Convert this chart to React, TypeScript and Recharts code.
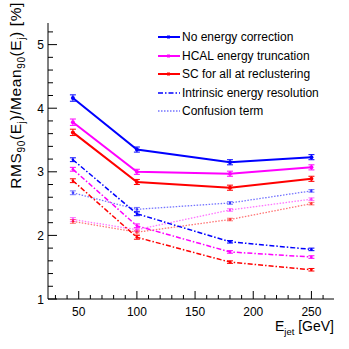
import React from 'react';
import { LineChart, Line, XAxis, YAxis, ErrorBar } from 'recharts';

// ---- data ----
const energies = [45, 100, 180, 250];
const noCorrection = [4.16, 3.35, 3.15, 3.23];
const noCorrectionErr = [0.05, 0.04, 0.04, 0.04];
const hcalTruncation = [3.78, 3.0, 2.97, 3.07];
const hcalTruncationErr = [0.05, 0.04, 0.04, 0.04];
const scRecluster = [3.62, 2.84, 2.75, 2.89];
const scReclusterErr = [0.05, 0.04, 0.04, 0.04];
const intrinsicNoCorr = [3.19, 2.34, 1.9, 1.78];
const intrinsicHcal = [3.04, 2.15, 1.74, 1.66];
const intrinsicSc = [2.86, 1.97, 1.58, 1.46];
const confusionNoCorr = [2.67, 2.41, 2.51, 2.7];
const confusionHcal = [2.25, 2.09, 2.4, 2.57];
const confusionSc = [2.22, 2.05, 2.25, 2.5];
const smallErr = [0.03, 0.03, 0.02, 0.02];

const xTicks = [30, 40, 50, 60, 70, 80, 90, 100, 110, 120, 130, 140, 150, 160, 170, 180, 190, 200, 210, 220, 230, 240, 250, 260];
const yTicks = [1, 1.2, 1.4, 1.6, 1.8, 2, 2.2, 2.4, 2.6, 2.8, 3, 3.2, 3.4, 3.6, 3.8, 4, 4.2, 4.4, 4.6, 4.8, 5, 5.2];
const legendNames = [
  'No energy correction',
  'HCAL energy truncation',
  'SC for all at reclustering',
  'Intrinsic energy resolution',
  'Confusion term',
];

const BLUE = '#0000ff';
const MAGENTA = '#ff00ff';
const RED = '#ff0000';
const FONT = '"Liberation Sans", Arial, Helvetica, sans-serif';

type Series = {
  key: string;
  values: number[];
  errors: number[];
  color: string;
  dash?: string;
  width: number;
  opacity: number;
};

const series: Series[] = [
  { key: 'confNo', values: confusionNoCorr, errors: smallErr, color: BLUE, dash: '1.5 1.5', width: 1.3, opacity: 0.55 },
  { key: 'confHcal', values: confusionHcal, errors: smallErr, color: MAGENTA, dash: '1.5 1.5', width: 1.3, opacity: 0.55 },
  { key: 'confSc', values: confusionSc, errors: smallErr, color: RED, dash: '1.5 1.5', width: 1.3, opacity: 0.55 },
  { key: 'intNo', values: intrinsicNoCorr, errors: smallErr, color: BLUE, dash: '5 2 1.5 2', width: 1.5, opacity: 1 },
  { key: 'intHcal', values: intrinsicHcal, errors: smallErr, color: MAGENTA, dash: '5 2 1.5 2', width: 1.5, opacity: 1 },
  { key: 'intSc', values: intrinsicSc, errors: smallErr, color: RED, dash: '5 2 1.5 2', width: 1.5, opacity: 1 },
  { key: 'noCorr', values: noCorrection, errors: noCorrectionErr, color: BLUE, width: 2, opacity: 1 },
  { key: 'hcal', values: hcalTruncation, errors: hcalTruncationErr, color: MAGENTA, width: 2, opacity: 1 },
  { key: 'sc', values: scRecluster, errors: scReclusterErr, color: RED, width: 2, opacity: 1 },
];

const data = energies.map((e, i) => {
  const row: Record<string, number> = { E: e };
  series.forEach((s) => {
    row[s.key] = s.values[i];
    row[s.key + 'Err'] = s.errors[i];
  });
  return row;
});

const isMajorX = (v: number) => v % 50 === 0;
const isMajorY = (v: number) => Math.abs(v - Math.round(v)) < 1e-6;

const BottomTick = (props: any) => {
  const { x, y, payload } = props;
  const v = payload.value;
  const major = isMajorX(v);
  return (
    <g>
      <line x1={x} x2={x} y1={y} y2={y - (major ? 8 : 4)} stroke="#000" strokeWidth={1} />
      {major && (
        <text x={x} y={y + 17} textAnchor="middle" fontSize={12} fontFamily={FONT} fill="#000">
          {v}
        </text>
      )}
    </g>
  );
};

const TopTick = (props: any) => {
  const { x, y, payload } = props;
  const major = isMajorX(payload.value);
  return <line x1={x} x2={x} y1={y} y2={y + (major ? 8 : 4)} stroke="#000" strokeWidth={1} />;
};

const LeftTick = (props: any) => {
  const { x, y, payload } = props;
  const v = payload.value;
  const major = isMajorY(v);
  return (
    <g>
      <line x1={x} x2={x + (major ? 9 : 5)} y1={y} y2={y} stroke="#000" strokeWidth={1} />
      {major && (
        <text x={x - 4} y={y + 4.5} textAnchor="end" fontSize={12} fontFamily={FONT} fill="#000">
          {Math.round(v)}
        </text>
      )}
    </g>
  );
};

const RightTick = (props: any) => {
  const { x, y, payload } = props;
  const major = isMajorY(payload.value);
  return <line x1={x} x2={x - (major ? 9 : 5)} y1={y} y2={y} stroke="#000" strokeWidth={1} />;
};

const XTitle = (props: any) => {
  const vb = props.viewBox || { x: 48, y: 299, width: 286, height: 50 };
  return (
    <text x={vb.x + vb.width} y={vb.y + 32} textAnchor="end" fontSize={14} fontFamily={FONT} fill="#000">
      <tspan>E</tspan>
      <tspan fontSize={9.5} dy={4}>jet</tspan>
      <tspan dy={-4}> [GeV]</tspan>
    </text>
  );
};

const YTitle = (props: any) => {
  const vb = props.viewBox || { x: 0, y: 23, width: 48, height: 276 };
  const tx = 21;
  const ty = vb.y - 21;
  return (
    <text
      x={tx}
      y={ty}
      transform={`rotate(-90 ${tx} ${ty})`}
      textAnchor="end"
      fontSize={15.5}
      letterSpacing={0.6}
      fontFamily={FONT}
      fill="#000"
    >
      <tspan>RMS</tspan>
      <tspan fontSize={10} dy={4}>90</tspan>
      <tspan dy={-4}>(E</tspan>
      <tspan fontSize={10} dy={4}>j</tspan>
      <tspan dy={-4}>)/Mean</tspan>
      <tspan fontSize={10} dy={4}>90</tspan>
      <tspan dy={-4}>(E</tspan>
      <tspan fontSize={10} dy={4}>j</tspan>
      <tspan dy={-4}>) [%]</tspan>
    </text>
  );
};

const legendStyles = [
  { color: BLUE, dash: undefined, width: 2, opacity: 1 },
  { color: MAGENTA, dash: undefined, width: 2, opacity: 1 },
  { color: RED, dash: undefined, width: 2, opacity: 1 },
  { color: BLUE, dash: '5 2 1.5 2', width: 1.5, opacity: 1 },
  { color: BLUE, dash: '1.5 1.5', width: 1.3, opacity: 0.55 },
];

const LegendBox = () => (
  <div
    style={{
      position: 'absolute',
      left: 157,
      top: 28,
      fontFamily: FONT,
      fontSize: 12,
      color: '#000',
      lineHeight: '18.5px',
    }}
  >
    {legendNames.map((name, i) => {
      const st = legendStyles[i];
      return (
        <div key={name} style={{ display: 'flex', alignItems: 'center', height: 18.5, whiteSpace: 'nowrap' }}>
          <svg width={24} height={10} style={{ marginRight: 1 }}>
            <line
              x1={1}
              x2={23}
              y1={5}
              y2={5}
              stroke={st.color}
              strokeWidth={st.width}
              strokeDasharray={st.dash}
              strokeOpacity={st.opacity}
            />
            {i < 3 && <rect x={10} y={3.5} width={3} height={3} fill={st.color} />}
          </svg>
          <span>{name}</span>
        </div>
      );
    })}
  </div>
);

export default function App() {
  return (
    <div style={{ position: 'absolute', left: 0, top: 0, width: 349, height: 349, background: '#fff' }}>
      <LineChart width={349} height={349} data={data} margin={{ top: 23, right: 15, bottom: 0, left: 0 }}>
        <XAxis
          xAxisId="x"
          dataKey="E"
          type="number"
          domain={[23.6, 269.4]}
          ticks={xTicks}
          interval={0}
          orientation="bottom"
          height={50}
          tickSize={0}
          tickMargin={0}
          tickLine={false}
          axisLine={{ stroke: '#000', strokeWidth: 1 }}
          tick={<BottomTick />}
          allowDataOverflow
          label={<XTitle />}
        />
        <XAxis
          xAxisId="top"
          dataKey="E"
          type="number"
          domain={[23.6, 269.4]}
          ticks={xTicks}
          interval={0}
          orientation="top"
          height={0}
          tickSize={0}
          tickMargin={0}
          tickLine={false}
          axisLine={{ stroke: '#000', strokeWidth: 1 }}
          tick={<TopTick />}
          allowDataOverflow
        />
        <YAxis
          yAxisId="y"
          type="number"
          domain={[1, 5.34]}
          ticks={yTicks}
          interval={0}
          orientation="left"
          width={48}
          tickSize={0}
          tickMargin={0}
          tickLine={false}
          axisLine={{ stroke: '#000', strokeWidth: 1 }}
          tick={<LeftTick />}
          allowDataOverflow
          label={<YTitle />}
        />
        <YAxis
          yAxisId="right"
          type="number"
          domain={[1, 5.34]}
          ticks={yTicks}
          interval={0}
          orientation="right"
          width={0}
          tickSize={0}
          tickMargin={0}
          tickLine={false}
          axisLine={{ stroke: '#000', strokeWidth: 1 }}
          tick={<RightTick />}
          allowDataOverflow
        />
        {series.map((s) => (
          <Line
            key={s.key}
            xAxisId="x"
            yAxisId="y"
            dataKey={s.key}
            type="linear"
            stroke={s.color}
            strokeWidth={s.width}
            strokeDasharray={s.dash}
            strokeOpacity={s.opacity}
            dot={{ r: s.width >= 2 ? 2 : 1.3, fill: s.color, stroke: s.color, strokeWidth: 0, fillOpacity: s.opacity }}
            activeDot={false}
            isAnimationActive={false}
            legendType="none"
          >
            <ErrorBar
              dataKey={s.key + 'Err'}
              direction="y"
              width={3}
              stroke={s.color}
              strokeWidth={1}
              strokeOpacity={s.opacity}
              isAnimationActive={false}
            />
          </Line>
        ))}
      </LineChart>
      <LegendBox />
    </div>
  );
}
